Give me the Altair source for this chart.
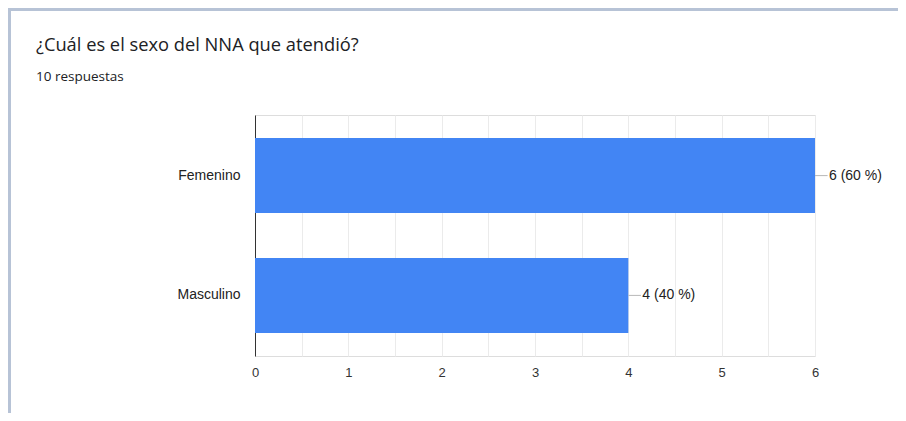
import altair as alt
import pandas as pd

categories = ["Femenino", "Masculino"]
counts = [6, 4]
percents = [60, 40]
title_text = "¿Cuál es el sexo del NNA que atendió?"
subtitle_text = "10 respuestas"
x_ticks = [0, 0.5, 1, 1.5, 2, 2.5, 3, 3.5, 4, 4.5, 5, 5.5, 6]

df = pd.DataFrame({
    "cat": categories,
    "n": counts,
    "pct": percents,
})
df["label"] = [f"{n} ({p} %)" for n, p in zip(counts, percents)]

W, H = 560, 241
PL, PT = 247, 107

y_enc = alt.Y("cat:N", sort=categories, title=None,
              scale=alt.Scale(paddingInner=0.375, paddingOuter=0.1935),
              axis=alt.Axis(labelFont="Liberation Sans", labelFontSize=14,
                            labelColor="#222222", labelPadding=15, ticks=False,
                            domainColor="#333333", domainWidth=1))
x_scale = alt.Scale(domain=[0, 6], nice=False)

bars = alt.Chart(df).mark_bar(color="#4285f4").encode(
    x=alt.X("n:Q", scale=x_scale, title=None,
            axis=alt.Axis(values=x_ticks,
                          labelExpr="datum.value % 1 == 0 ? format(datum.value, 'd') : ''",
                          labelFont="Liberation Sans", labelFontSize=13, labelColor="#333333",
                          labelPadding=10, labelFlush=False, ticks=False, domain=False,
                          gridColor="#ebebeb", gridWidth=1)),
    y=y_enc,
    size=alt.value(75),
)

connectors = alt.Chart(df).transform_calculate(
    n2="datum.n + 0.135"
).mark_rule(color="#b8b8b8", strokeWidth=1).encode(
    x=alt.X("n:Q", scale=x_scale),
    x2="n2:Q",
    y=alt.Y("cat:N", sort=categories),
)

labels = alt.Chart(df).mark_text(
    align="left", baseline="middle", dx=14, font="Liberation Sans",
    fontSize=14, color="#222222"
).encode(
    x=alt.X("n:Q", scale=x_scale),
    y=alt.Y("cat:N", sort=categories),
    text="label:N",
)

title = alt.Chart(pd.DataFrame({"t": [title_text]})).mark_text(
    align="left", baseline="alphabetic", font="Open Sans", fontSize=18.3, color="#202124"
).encode(x=alt.value(-219), y=alt.value(-64.5), text="t:N")

subtitle = alt.Chart(pd.DataFrame({"t": [subtitle_text]})).mark_text(
    align="left", baseline="alphabetic", font="Open Sans", fontSize=13.5,
    color="#202124"
).encode(x=alt.value(-219), y=alt.value(-34.5), text="t:N")

border_left = alt.Chart(pd.DataFrame({"a": [0]})).mark_rule(
    color="#b7c3d6", strokeWidth=3
).encode(x=alt.value(-PL + 1.5), y=alt.value(-PT), y2=alt.value(H + 60))

border_top = alt.Chart(pd.DataFrame({"a": [0]})).mark_rule(
    color="#b7c3d6", strokeWidth=3
).encode(x=alt.value(-PL), x2=alt.value(W + 90), y=alt.value(-PT + 1.5))

chart = alt.layer(bars, connectors, labels, title, subtitle, border_left, border_top).properties(
    width=W, height=H,
    autosize=alt.AutoSizeParams(type="none"),
    padding={"left": PL, "top": PT, "right": 83, "bottom": 57},
).configure_view(stroke="#ebebeb").configure(background="white")

chart.save("out.html", embed_options={"renderer": "svg", "actions": False})
